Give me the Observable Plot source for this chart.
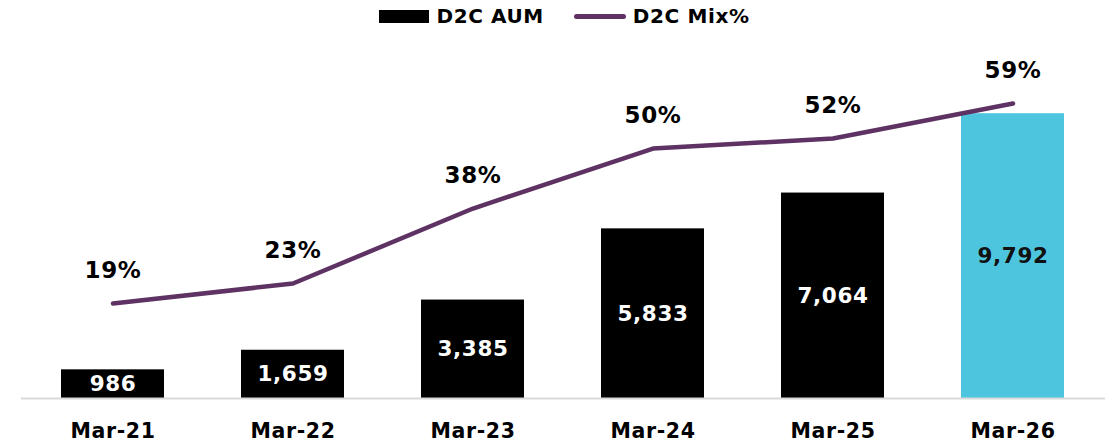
<!DOCTYPE html>
<html>
<head>
<meta charset="utf-8">
<script src="https://cdn.jsdelivr.net/npm/d3@7"></script>
<script src="https://cdn.jsdelivr.net/npm/@observablehq/plot@0.6"></script>
<style>
  html, body { margin: 0; padding: 0; background: #fff; }
  body { width: 1115px; height: 446px; overflow: hidden; font-family: "DejaVu Sans", sans-serif; }
  #legend { height: 32px; display: flex; align-items: center; justify-content: center; font-weight: bold; font-size: 20px; letter-spacing: 0.6px; color: #000; gap: 30px; padding-left: 14px; box-sizing: border-box; }
  .item { display: flex; align-items: center; gap: 7px; }
  .sw-bar { width: 50px; height: 13px; background: #000; }
  .sw-line { width: 52px; height: 5px; background: #5E3263; border-radius: 3px; }
  #chart svg text { letter-spacing: 0.6px; }
</style>
</head>
<body>
<div id="legend">
  <div class="item"><span class="sw-bar"></span><span>D2C AUM</span></div>
  <div class="item"><span class="sw-line"></span><span>D2C Mix%</span></div>
</div>
<div id="chart"></div>
<script>
const categories = ["Mar-21", "Mar-22", "Mar-23", "Mar-24", "Mar-25", "Mar-26"];
const aum = [986, 1659, 3385, 5833, 7064, 9792];
const mix = [19, 23, 38, 50, 52, 59];
const barColors = ["#000000", "#000000", "#000000", "#000000", "#000000", "#4EC5DF"];
const labelColors = ["#ffffff", "#ffffff", "#ffffff", "#ffffff", "#ffffff", "#111111"];

// secondary axis: percent mapped onto AUM scale
const pctFactor = 171.9;

const data = categories.map((c, i) => ({
  cat: c, aum: aum[i], mix: mix[i], mixY: mix[i] * pctFactor,
  color: barColors[i], lc: labelColors[i],
  label: d3.format(",")(aum[i]), pct: mix[i] + "%"
}));

const chart = Plot.plot({
  width: 1115,
  height: 414,
  marginLeft: 21,
  marginRight: 10,
  marginTop: 17,
  marginBottom: 48,
  style: { fontFamily: "DejaVu Sans, sans-serif", background: "#fff" },
  x: { domain: categories, paddingInner: 0.425, paddingOuter: 0.2125, label: null },
  y: { domain: [0, 12000], axis: null },
  marks: [
    Plot.barY(data, { x: "cat", y: "aum", fill: "color" }),
    Plot.ruleY([0], { stroke: "#d9d9d9", strokeWidth: 2 }),
    Plot.text(data, { x: "cat", y: d => d.aum / 2, text: "label", fill: "lc", fontSize: 21.5, fontWeight: "bold" }),
    Plot.line(data, { x: "cat", y: "mixY", stroke: "#5E3263", strokeWidth: 4.5, strokeLinecap: "round" }),
    Plot.text(data, { x: "cat", y: "mixY", text: "pct", dy: -33, fill: "#000", fontSize: 23, fontWeight: "bold" }),
    Plot.axisX({ tickSize: 0, tickPadding: 25, fontSize: 20.5, fontWeight: "bold", fill: "#000", label: null })
  ]
});
document.getElementById("chart").appendChild(chart);
</script>
</body>
</html>
